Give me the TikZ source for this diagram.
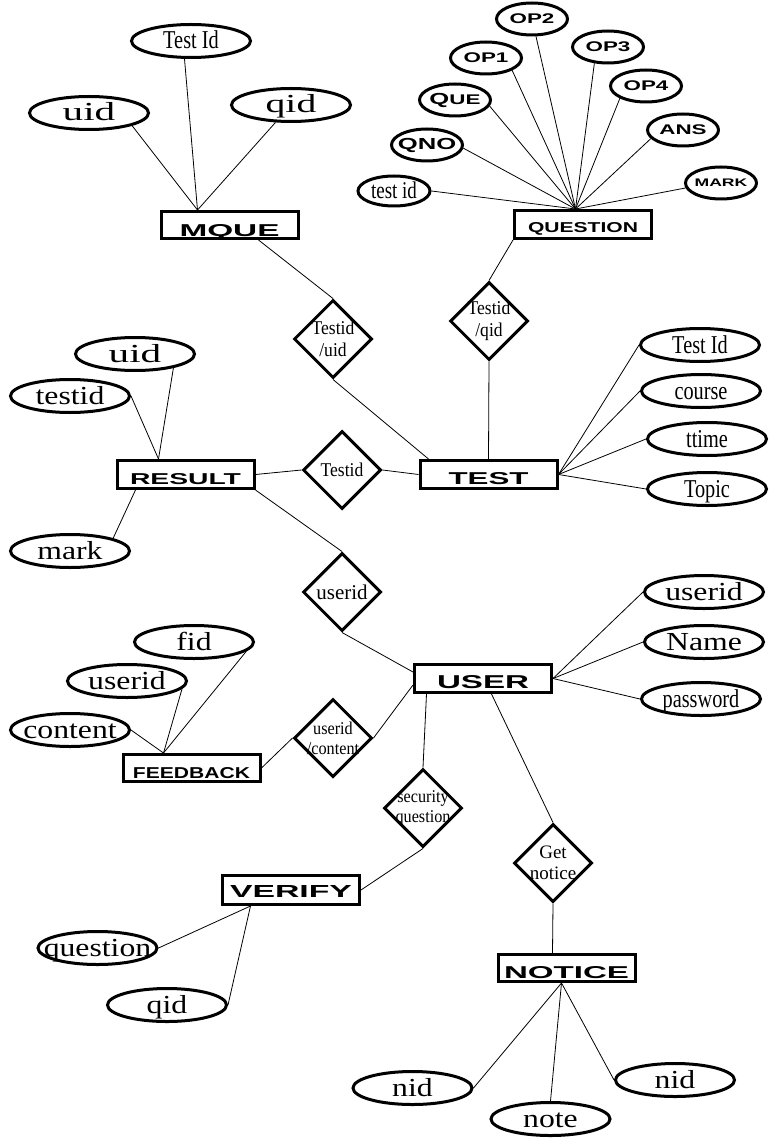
\documentclass[tikz,border=0pt]{standalone}
\usepackage{graphicx}
\usepackage{fontspec}
\setmainfont{Liberation Serif}
\setsansfont{Liberation Sans}
\newfontfamily\wideserif[FakeStretch=1.22]{Liberation Serif}
\newfontfamily\thinserif[FakeStretch=0.79]{Liberation Serif}
\newfontfamily\relserif[FakeStretch=0.9]{Liberation Serif}
\newfontfamily\capsans[FakeStretch=1.6]{Liberation Sans}
\usetikzlibrary{shapes.geometric}
\tikzset{
  entity/.style={draw, line width=3pt, minimum width=137pt, minimum height=28pt,
    inner sep=0pt, text height=19pt, text depth=0pt, font=\bfseries\sffamily},
  attr/.style={ellipse, draw, line width=3pt, minimum width=119pt, minimum height=33pt,
    inner xsep=-12pt, inner ysep=-4pt, text height=18pt, text depth=2pt,
    font=\wideserif\fontsize{26}{28}\selectfont},
  tattr/.style={attr, font=\thinserif\fontsize{25.7}{28}\selectfont},
  qattr/.style={ellipse, draw, line width=3pt, minimum width=71pt, minimum height=32pt,
    inner xsep=-8pt, inner ysep=0pt, font=\capsans\bfseries\fontsize{14}{16}\selectfont},
  rel/.style={diamond, draw, line width=3pt, minimum size=78pt, inner sep=-8pt,
    align=center, font=\relserif\fontsize{19.5}{22}\selectfont},
  link/.style={line width=0.8pt}
}
\begin{document}
\begin{tikzpicture}[x=1pt,y=-1pt]
\fill[white] (0,0) rectangle (768,1139);
% entities
\node (mque)     at (229.5,225) [entity, minimum height=27pt, text height=24pt] {\resizebox{100pt}{12pt}{MQUE}};
\node (question) at (583,224.5) [entity, text height=17pt] {\resizebox{110pt}{10pt}{QUESTION}};
\node (test)     at (488.5,474.5) [entity] {\resizebox{80pt}{12pt}{TEST}};
\node (result)   at (185.5,474.5) [entity] {\resizebox{111pt}{11pt}{RESULT}};
\node (user)     at (483,678.5) [entity] {\resizebox{92pt}{13pt}{USER}};
\node (feedback) at (191.5,768) [entity, minimum height=27pt, text height=20pt] {\resizebox{117pt}{11pt}{FEEDBACK}};
\node (verify)   at (291,890) [entity, minimum height=29pt, text height=14pt] {\resizebox{122pt}{12pt}{VERIFY}};
\node (notice)   at (566.5,968) [entity, minimum height=27pt, text height=20pt] {\resizebox{125pt}{12pt}{NOTICE}};
%
% relations
\node (tu) at (333,339) [rel] {Testid\\/uid};
\node (tq) at (489,321) [rel] {Testid\\/qid};
\node (tr) at (342,470) [rel] {Testid};
\node (ru) at (342,592) [rel, font=\fontsize{21}{22}\selectfont] {userid};
\node (uc) at (333,738) [rel, font=\relserif\fontsize{18}{20}\selectfont] {userid\\/content};
\node (sq) at (423,808) [rel, font=\relserif\fontsize{18}{20}\selectfont] {security\\question};
\node (gn) at (553,863) [rel, font=\fontsize{19}{21}\selectfont] {Get\\notice};
%
% MQUE
\node (mtid) at (191,41)  [tattr] {Test Id};
\node (muid) at (89,113)  [attr] {\scalebox{1.3}[1]{uid}};
\node (mqid) at (291,105) [attr] {\scalebox{1.25}[1]{qid}};
% QUESTION
\node (op2)  at (532,19)  [qattr] {OP2};
\node (op1)  at (486,58)  [qattr] {OP1};
\node (op3)  at (608,47)  [qattr] {OP3};
\node (op4)  at (646,86)  [qattr] {OP4};
\node (que)  at (455,100) [qattr] {{\fontsize{16}{16}\selectfont Q}UE};
\node (ans)  at (683,130) [qattr] {ANS};
\node (qno)  at (427,145) [qattr, font=\capsans\bfseries\fontsize{16}{16}\selectfont] {QNO};
\node (qtid) at (394,191) [tattr, minimum width=72pt, minimum height=30pt, font=\thinserif\fontsize{24}{26}\selectfont] {test id};
\node (mark) at (721,183) [qattr, font=\capsans\bfseries\fontsize{11}{12}\selectfont] {MARK};
% TEST
\node (ttid)   at (700,345) [tattr] {Test Id};
\node (course) at (701,391) [tattr] {course};
\node (ttime)  at (707,439) [tattr] {ttime};
\node (topic)  at (707,489) [tattr] {Topic};
% RESULT
\node (ruid)  at (135,354) [attr] {\scalebox{1.3}[1]{uid}};
\node (rtid)  at (70,396)  [attr] {testid};
\node (rmark) at (70,551)  [attr] {mark};
% USER
\node (uuid)  at (704,592) [attr] {userid};
\node (uname) at (704,642) [attr] {Name};
\node (upass) at (701,699) [tattr] {password};
% FEEDBACK
\node (fid)   at (194,642) [attr] {fid};
\node (fuid)  at (127,681) [attr] {userid};
\node (fcont) at (70,730)  [attr] {content};
% VERIFY
\node (vques) at (97.5,948) [attr] {question};
\node (vqid)  at (167,1005) [attr] {qid};
% NOTICE
\node (nid1) at (412.5,1088) [attr] {nid};
\node (note) at (550.5,1119) [attr] {note};
\node (nid2) at (675,1080)   [attr] {nid};
%
% attribute lines
\draw[link] (mtid.-110) -- ([xshift=38pt]mque.north west);
\draw[link] (muid.south east) -- ([xshift=38pt]mque.north west);
\draw[link] (mqid) -- ([xshift=38pt]mque.north west);
%
\draw[link] (op2) -- ([xshift=62.5pt]question.north west);
\draw[link] (op1.south east) -- ([xshift=62.5pt]question.north west);
\draw[link] (op3.-130) -- ([xshift=62.5pt]question.north west);
\draw[link] (op4.south west) -- ([xshift=62.5pt]question.north west);
\draw[link] (que.-10) -- ([xshift=62.5pt]question.north west);
\draw[link] (ans.-165) -- ([xshift=62.5pt]question.north west);
\draw[link] (qno.-5) -- ([xshift=62.5pt]question.north west);
\draw[link] (qtid.east) -- ([xshift=62.5pt]question.north west);
\draw[link] (mark.-172) -- ([xshift=62.5pt]question.north west);
%
\draw[link] (ttid.west) -- (test.east);
\draw[link] (course.west) -- (test.east);
\draw[link] (ttime.west) -- (test.east);
\draw[link] (topic.west) -- (test.east);
%
\draw[link] (ruid.-20) -- ([xshift=43pt]result.north west);
\draw[link] (rtid.east) -- ([xshift=43pt]result.north west);
\draw[link] (rmark.north east) -- ([xshift=20pt]result.south west);
%
\draw[link] (uuid.west) -- (user.east);
\draw[link] (uname.west) -- (user.east);
\draw[link] (upass.west) -- (user.east);
%
\draw[link] (fid.-10) -- ([xshift=42pt]feedback.north west);
\draw[link] (fuid.-8) -- ([xshift=42pt]feedback.north west);
\draw[link] (fcont.east) -- ([xshift=42pt]feedback.north west);
%
\draw[link] (vques.east) -- ([xshift=29.5pt]verify.south west);
\draw[link] (vqid.east) -- ([xshift=29.5pt]verify.south west);
%
\draw[link] (nid1.east) -- ([xshift=65pt]notice.south west);
\draw[link] (note.north) -- ([xshift=65pt]notice.south west);
\draw[link] (nid2.west) -- ([xshift=65pt]notice.south west);
%
% relation lines
\draw[link] ([xshift=99pt]mque.south west) -- (tu.north);
\draw[link] (tu.south) -- ([xshift=10pt]test.north west);
\draw[link] (question.south west) -- (tq.north);
\draw[link] (tq.south) -- (test.north);
\draw[link] (result.east) -- (tr.west);
\draw[link] (tr.east) -- (test.west);
\draw[link] (result.south east) -- (ru.north);
\draw[link] (ru.south) -- ([yshift=-9pt]user.north west);
\draw[link] (feedback.east) -- (uc.west);
\draw[link] (uc.east) -- ([yshift=-22pt]user.north west);
\draw[link] ([xshift=13.5pt]user.south west) -- (sq.north);
\draw[link] (sq.south) -- (verify.east);
\draw[link] ([xshift=78.5pt]user.south west) -- (gn.north);
\draw[link] (gn.south) -- ([xshift=56pt]notice.north west);
\end{tikzpicture}
\end{document}
